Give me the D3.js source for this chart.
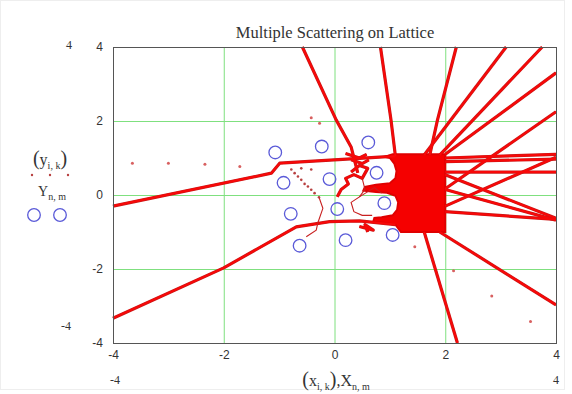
<!DOCTYPE html>
<html>
<head>
<meta charset="utf-8">
<script src="https://cdn.jsdelivr.net/npm/d3@7"></script>
<style>
  body { margin: 0; background: #fff; }
  svg text { font-family: "Liberation Serif", "Times New Roman", serif; }
</style>
</head>
<body>
<div id="chart"></div>
<script>
// lattice sites (blue circles)
const latticeX = [-1.07, -0.23, 0.61, -0.92, -0.09, 0.76, -0.79, 0.05, 0.90, -0.63, 0.20, 1.05];
const latticeY = [1.15, 1.31, 1.42, 0.33, 0.43, 0.60, -0.51, -0.38, -0.22, -1.37, -1.22, -1.08];

const ticks = [-4, -2, 0, 2, 4];

// incoming trajectories from the left
const incomingUpper = [[-4, -0.3], [-1.14, 0.59], [-0.99, 0.86], [0.45, 0.99], [1.1, 1.05]];
const incomingLower = [[-4, -3.33], [-2, -1.97], [-0.69, -0.86], [-0.09, -0.72], [0.45, -0.7], [1.1, -0.8]];

// rays leaving through the top
const topRays = [
  [[-0.58, 4], [0.03, 2.03], [0.3, 1.3], [0.42, 0.6]],
  [[0.83, 4], [1.02, 2.03], [1.1, 1.05]],
  [[2.2, 4], [1.86, 2.03], [1.72, 1.08]],
  [[3.1, 4], [1.62, 1.08]],
  [[3.75, 4], [1.9, 1.08]]
];

// rays leaving through the right / bottom
const outRays = [
  [[2.0, 1.1], [4, 3.3]],
  [[2.0, 0.17], [4, 2.25]],
  [[2.0, 1.0], [4, 1.1]],
  [[2.0, 0.9], [4, 0.97]],
  [[2.0, 0.62], [4, 0.62]],
  [[2.0, -0.3], [4, 1.02]],
  [[2.0, 0.55], [4, -0.63]],
  [[2.0, 0.15], [4, -0.68]],
  [[2.0, -0.45], [4, -0.66]],
  [[1.9, -1.0], [4, -2.97]],
  [[1.62, -1.0], [2.22, -4]]
];

// tangled short pieces between the sites
const tangle = [
  [[0.05, -0.05], [0.12, 0.15], [0.25, 0.3], [0.2, 0.45], [0.35, 0.55], [0.5, 0.45], [0.6, 0.72], [0.45, 0.8], [0.3, 0.62]],
  [[0.2, 1.12], [0.45, 1.0], [0.58, 1.1]],
  [[0.45, -0.85], [0.7, -0.95], [0.55, -0.8], [0.6, -1.0]],
  [[0.3, 0.95], [0.5, 0.85], [0.62, 0.95]]
];
const thinLines = [
  [[-0.28, -0.06], [-0.21, -0.36], [-0.3, -0.75], [-0.33, -0.95], [-0.51, -1.13]],
  [[0.5, 0.45], [0.55, 0.15], [0.45, -0.05], [0.3, -0.2], [0.35, -0.45], [0.5, -0.55], [0.68, -0.55]],
  [[0.45, -0.05], [0.72, 0.2], [0.85, 0.05]]
];

// dense region where the trajectories pile up
const blobOutline = [
  [1.05, 1.1], [2.0, 1.1], [2.0, -1.0], [1.2, -1.0], [1.1, -0.8], [0.9, -0.75], [0.7, -0.72],
  [0.72, -0.62], [0.85, -0.6], [1.05, -0.55], [1.13, -0.4], [1.15, -0.2], [1.1, -0.02],
  [0.95, 0.06], [0.75, 0.08], [0.52, 0.12], [0.55, 0.22], [0.75, 0.28], [1.0, 0.32],
  [1.1, 0.45], [1.12, 0.65], [1.08, 0.85], [1.0, 1.0], [0.9, 1.03]
];

// sampled points of fast particles
const dotTrail = [[-0.78, 0.69], [-0.72, 0.59], [-0.66, 0.5], [-0.6, 0.41], [-0.54, 0.3], [-0.48, 0.23],
  [-0.42, 0.14], [-0.36, 0.05], [-0.28, -0.06], [-0.6, 0.72], [-0.42, 0.69]];
const sparseDots = [[-3.65, 0.86], [-3.0, 0.86], [-2.34, 0.83], [-1.71, 0.77], [-0.42, 2.09], [-0.27, 1.94],
  [1.45, -1.4], [2.15, -2.05], [2.84, -2.73], [3.54, -3.42]];

const W = 572, H = 394;
const svg = d3.select('#chart').append('svg').attr('width', W).attr('height', H);

const x = d3.scaleLinear().domain([-4, 4]).range([113, 556]);
const y = d3.scaleLinear().domain([-4, 4]).range([343, 47]);

svg.append('rect').attr('x', 0.5).attr('y', 0.5).attr('width', W - 8).attr('height', H - 5)
  .attr('fill', '#fff').attr('stroke', '#eee');

// grid
const grid = svg.append('g').attr('stroke', '#7fe07f').attr('stroke-width', 1);
grid.selectAll('.gx').data([-2, 0, 2]).enter().append('line')
  .attr('x1', (d) => x(d) + 0.5).attr('x2', (d) => x(d) + 0.5).attr('y1', y(4)).attr('y2', y(-4));
grid.selectAll('.gy').data([-2, 0, 2]).enter().append('line')
  .attr('y1', (d) => y(d) + 0.5).attr('y2', (d) => y(d) + 0.5).attr('x1', x(-4)).attr('x2', x(4));

const plot = svg.append('g');
const line = d3.line().x((d) => x(d[0])).y((d) => y(d[1]));
const closed = d3.line().x((d) => x(d[0])).y((d) => y(d[1])).curve(d3.curveLinearClosed);

const thick = [incomingUpper, incomingLower, ...topRays, ...outRays, ...tangle];

// darker edge under the bright red, like the blurred original
plot.selectAll('.edge').data(thick).enter().append('path')
  .attr('d', line).attr('fill', 'none').attr('stroke', '#c81818')
  .attr('stroke-width', 3.2).attr('stroke-linejoin', 'round');
plot.append('path').attr('d', closed(blobOutline))
  .attr('fill', '#f50000').attr('stroke', '#e00000').attr('stroke-width', 2);
plot.selectAll('.traj').data(thick).enter().append('path')
  .attr('d', line).attr('fill', 'none').attr('stroke', '#f80808')
  .attr('stroke-width', 2).attr('stroke-linejoin', 'round');

plot.selectAll('.thin').data(thinLines).enter().append('path')
  .attr('d', line).attr('fill', 'none').attr('stroke', '#c82020').attr('stroke-width', 1.1);

plot.selectAll('.dt').data(dotTrail).enter().append('circle')
  .attr('cx', (d) => x(d[0])).attr('cy', (d) => y(d[1])).attr('r', 1.3).attr('fill', '#b84040');
plot.selectAll('.sd').data(sparseDots).enter().append('circle')
  .attr('cx', (d) => x(d[0])).attr('cy', (d) => y(d[1])).attr('r', 1.5).attr('fill', '#d86060');

plot.selectAll('.site').data(latticeX).enter().append('circle')
  .attr('cx', (d) => x(d)).attr('cy', (d, i) => y(latticeY[i])).attr('r', 6.3)
  .attr('fill', 'none').attr('stroke', '#5a5ad8').attr('stroke-width', 1.3);

// frame
svg.append('rect').attr('x', x(-4) + 0.5).attr('y', y(4) + 0.5)
  .attr('width', x(4) - x(-4)).attr('height', y(-4) - y(4))
  .attr('fill', 'none').attr('stroke', '#555').attr('stroke-width', 1);

const fmt = (d) => (d < 0 ? '-' + Math.abs(d) : String(d));
const yAxis = svg.append('g').attr('transform', `translate(${x(-4)},0)`)
  .call(d3.axisLeft(y).tickValues(ticks).tickSize(0).tickPadding(10).tickFormat(fmt));
const xAxis = svg.append('g').attr('transform', `translate(0,${y(-4)})`)
  .call(d3.axisBottom(x).tickValues(ticks).tickSize(0).tickPadding(7).tickFormat(fmt));
[xAxis, yAxis].forEach((a) => {
  a.select('.domain').remove();
  a.selectAll('text').style('font-family', '"Liberation Sans", Arial, sans-serif')
    .style('font-size', '12px').attr('fill', '#333');
});

// axis limit labels
const lim = svg.append('g').style('font-family', '"Liberation Sans", Arial, sans-serif')
  .style('font-size', '12px').attr('fill', '#333').attr('text-anchor', 'middle');
lim.append('text').attr('x', 69).attr('y', 49).text('4');
lim.append('text').attr('x', 66).attr('y', 330).text('-4');
lim.append('text').attr('x', x(-4) + 2).attr('y', 384).text('-4');
lim.append('text').attr('x', x(4)).attr('y', 384).text('4');

// title
svg.append('text').attr('x', 335).attr('y', 38).attr('text-anchor', 'middle')
  .style('font-size', '16.5px').attr('fill', '#333').text('Multiple Scattering on Lattice');

// y label / legend
const yl = svg.append('text').attr('x', 50).attr('y', 165).attr('text-anchor', 'middle').attr('fill', '#333');
yl.append('tspan').style('font-size', '20px').text('(');
yl.append('tspan').style('font-size', '16px').text('y');
yl.append('tspan').style('font-size', '10px').attr('dy', 4).text('i, k');
yl.append('tspan').style('font-size', '20px').attr('dy', -4).text(')');

svg.selectAll('.ld').data([32, 50, 68]).enter().append('circle')
  .attr('cx', (d) => d).attr('cy', 175).attr('r', 1.2).attr('fill', '#b84040');

const yl2 = svg.append('text').attr('x', 52).attr('y', 196).attr('text-anchor', 'middle').attr('fill', '#333');
yl2.append('tspan').style('font-size', '14px').text('Y');
yl2.append('tspan').style('font-size', '10px').attr('dy', 4).text('n, m');

svg.selectAll('.lc').data([34, 60]).enter().append('circle')
  .attr('cx', (d) => d).attr('cy', 215).attr('r', 6.3)
  .attr('fill', 'none').attr('stroke', '#5a5ad8').attr('stroke-width', 1.3);

// x label
const xl = svg.append('text').attr('x', 336).attr('y', 386).attr('text-anchor', 'middle').attr('fill', '#333');
xl.append('tspan').style('font-size', '20px').text('(');
xl.append('tspan').style('font-size', '16px').text('x');
xl.append('tspan').style('font-size', '10px').attr('dy', 4).text('i, k');
xl.append('tspan').style('font-size', '20px').attr('dy', -4).text(')');
xl.append('tspan').style('font-size', '16px').text(',X');
xl.append('tspan').style('font-size', '10px').attr('dy', 4).text('n, m');
</script>
</body>
</html>
